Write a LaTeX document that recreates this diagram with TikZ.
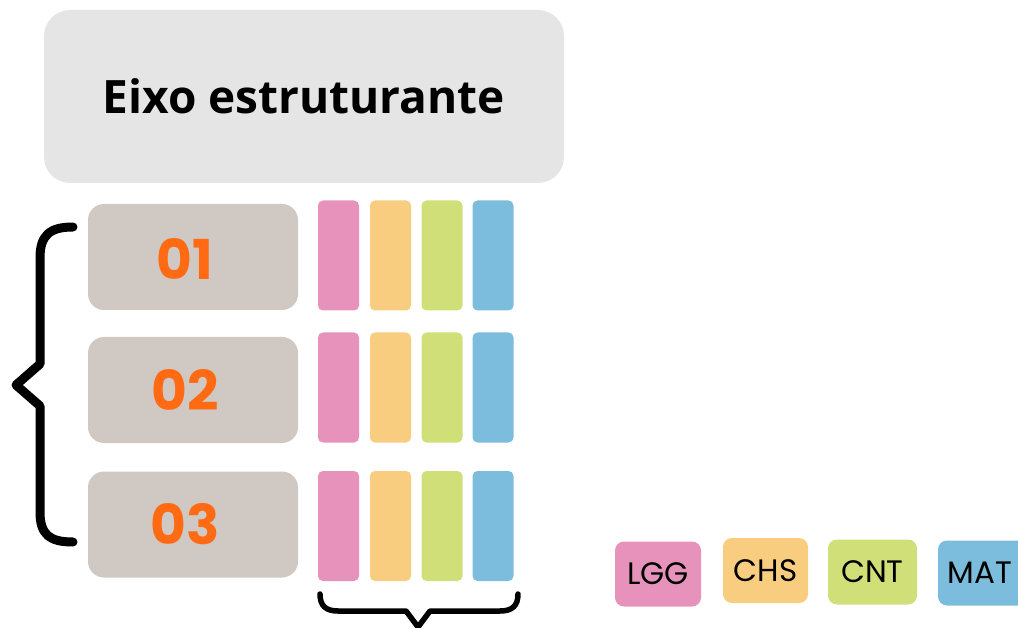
\documentclass[tikz,border=0pt]{standalone}
\usepackage{fontspec}
\setmainfont{Open Sans}
\newfontfamily\numfont{Poppins}
\definecolor{topgray}{HTML}{E5E5E5}
\definecolor{numgray}{HTML}{CFC8C3}
\definecolor{numorange}{HTML}{FF6A13}
\definecolor{cpink}{HTML}{E792BB}
\definecolor{corange}{HTML}{F8CD7F}
\definecolor{cgreen}{HTML}{D0DF78}
\definecolor{cblue}{HTML}{7CBCDD}
\begin{document}
\begin{tikzpicture}[x=1pt,y=-1pt,
  topbox/.style={fill=topgray,rounded corners=26pt,minimum width=520pt,minimum height=173pt,inner sep=0pt,
    font=\fontsize{46}{50}\selectfont\bfseries},
  numbox/.style={fill=numgray,rounded corners=16pt,minimum width=210pt,minimum height=106pt,inner sep=0pt},
  numtext/.style={text=numorange,font=\numfont\fontsize{55}{60}\selectfont\bfseries,inner sep=0pt},
  bar/.style={fill=#1,rounded corners=5pt,minimum width=41pt,minimum height=110pt,inner sep=0pt},
  legbox/.style={fill=#1,rounded corners=9pt,minimum height=65pt,inner sep=0pt},
  legtext/.style={font=\numfont\fontsize{31}{34}\selectfont,text=black},
  bracestyle/.style={line width=#1,line cap=round,line join=round},
]
\useasboundingbox (0,0) rectangle (1018,628);
\node[topbox] (top) at (304,96.5) {Eixo estruturante};
\node[numbox] (n1) at (193,257) {};
\node[numbox] (n2) at (193,390) {};
\node[numbox] (n3) at (193,524.5) {};
\node[numtext] (t1) at (185,259) {01};
\node[numtext] (t2) at (185,390) {02};
\node[numtext] (t3) at (185,524) {03};
\foreach \r/\y in {1/255.5,2/387.5,3/526}{
  \node[bar=cpink]   (p\r) at (338.5,\y) {};
  \node[bar=corange] (o\r) at (390.5,\y) {};
  \node[bar=cgreen]  (g\r) at (442,\y) {};
  \node[bar=cblue]   (b\r) at (493,\y) {};
}
% left brace
\draw[bracestyle=9pt] (73,227) .. controls (50,227) and (40,235) .. (40,258)
  -- (40,364) -- (16,385) -- (40,406) -- (40,512)
  .. controls (40,535) and (50,542) .. (73,542);
% bottom brace
\draw[bracestyle=5.5pt] (320,594) .. controls (320,606) and (326,611) .. (338,611)
  -- (406,611) -- (418,627) -- (430,611) -- (500,611)
  .. controls (512,611) and (518,606) .. (518,594);
% legend
\node[legbox=cpink,minimum width=86pt] (lgg) at (658,574) {};
\node[legtext] at (lgg.center) {LGG};
\node[legbox=corange,minimum width=85pt] (chs) at (765.5,570.5) {};
\node[legtext] at (chs.center) {CHS};
\node[legbox=cgreen,minimum width=89pt] (cnt) at (872.5,572) {};
\node[legtext] at (cnt.center) {CNT};
\node[legbox=cblue,minimum width=100pt] (mat) at (988,573) {};
\node[legtext,anchor=west] at (944,573) {MAT};
\end{tikzpicture}
\end{document}
